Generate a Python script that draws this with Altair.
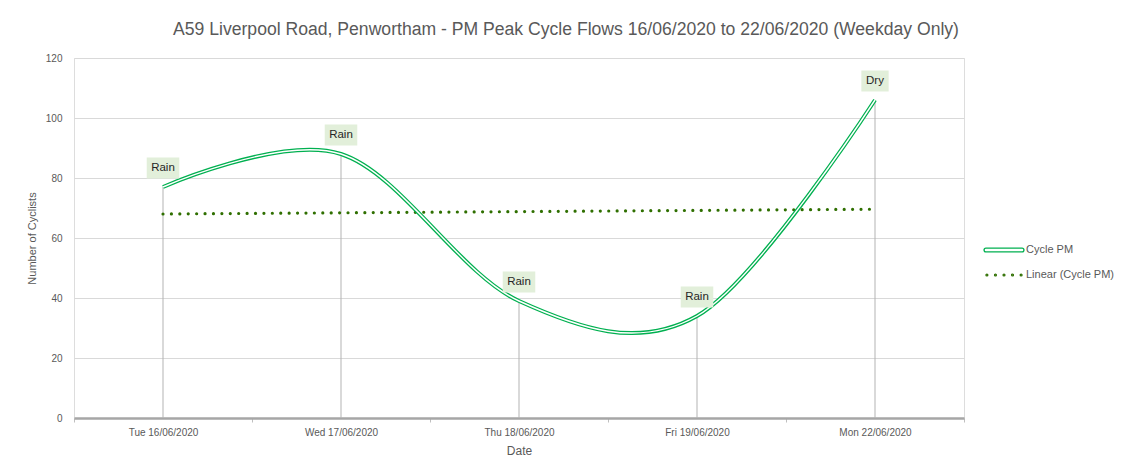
import altair as alt
import pandas as pd
import numpy as np

# ---- data ----
dates = ["Tue 16/06/2020", "Wed 17/06/2020", "Thu 18/06/2020", "Fri 19/06/2020", "Mon 22/06/2020"]
cycle_pm = [77, 88, 39, 34, 106]
weather = ["Rain", "Rain", "Rain", "Rain", "Dry"]
y_ticks = [0, 20, 40, 60, 80, 100, 120]
series = ["Cycle PM", "Linear (Cycle PM)"]

# linear trendline (like Excel's "Linear" trendline)
idx = np.arange(1, len(cycle_pm) + 1)
slope, intercept = np.polyfit(idx, cycle_pm, 1)
trend = list(intercept + slope * idx)

df = pd.DataFrame({"Date": dates, "Cyclists": cycle_pm, "Weather": weather})
tdf = pd.DataFrame({"Date": dates, "Cyclists": trend})
ldf = pd.DataFrame({"Series": series, "Date": [dates[0]] * 2, "Cyclists": [0, 0]})

FONT = "Liberation Sans"
GREEN = "#00B050"
DARK = "#2F6F00"
GREY = "#595959"

x_enc = alt.X(
    "Date:N", sort=dates, bandPosition=0.5,
    scale=alt.Scale(type="band", paddingInner=0, paddingOuter=0),
    axis=alt.Axis(title="Date", labelAngle=0, tickBand="extent", grid=False,
                  domainColor="#A6A6A6", domainWidth=2.5, tickColor="#BFBFBF",
                  tickSize=4, labelPadding=5, labelFontSize=10, labelColor=GREY,
                  titleFontSize=12, titleColor=GREY, titleFontWeight="normal",
                  titlePadding=8, labelFont=FONT, titleFont=FONT),
)
y_enc = alt.Y(
    "Cyclists:Q",
    scale=alt.Scale(domain=[0, 120], nice=False),
    axis=alt.Axis(title="Number of Cyclists", values=y_ticks, domain=False, ticks=False,
                  gridColor="#D9D9D9", labelPadding=12, labelFontSize=10, labelColor=GREY,
                  titleFontSize=11, titleColor=GREY, titleFontWeight="normal",
                  titlePadding=8, labelFont=FONT, titleFont=FONT),
)

base = alt.Chart(df)

drops = base.mark_rule(color="#B3B3B3", strokeWidth=1).encode(
    x=x_enc, y=y_enc, y2=alt.datum(0)
)

trend_line = alt.Chart(tdf).mark_line(
    color=DARK, strokeWidth=3.2, strokeDash=[0.01, 8.4], strokeCap="round"
).encode(x=x_enc, y=y_enc)

outer = base.mark_line(interpolate="cardinal", color=GREEN, strokeWidth=4).encode(x=x_enc, y=y_enc)
inner = base.mark_line(interpolate="cardinal", color="white", strokeWidth=1.4).encode(x=x_enc, y=y_enc)

box_rain = base.transform_filter(alt.datum.Weather == "Rain").mark_point(
    shape="M-1.55,-1H1.55V1H-1.55Z", filled=True, fill="#E2EFDA", strokeWidth=0,
    opacity=1, size=441, yOffset=-19
).encode(x=x_enc, y=y_enc)
box_dry = base.transform_filter(alt.datum.Weather == "Dry").mark_point(
    shape="M-1.3,-1H1.3V1H-1.3Z", filled=True, fill="#E2EFDA", strokeWidth=0,
    opacity=1, size=441, yOffset=-19
).encode(x=x_enc, y=y_enc)

labels = base.mark_text(
    yOffset=-19, fontSize=11.5, color="#262626", font=FONT, baseline="middle"
).encode(x=x_enc, y=y_enc, text="Weather:N")

capsule = ("M-0.95,-0.1H0.95A0.1,0.1 0 0 1 0.95,0.1H-0.95A0.1,0.1 0 0 1 -0.95,-0.1Z")
def dot(cx, r=0.05):
    return (f"M{cx - r},0A{r},{r} 0 1 0 {cx + r},0A{r},{r} 0 1 0 {cx - r},0Z")
dots = "".join(dot(c) for c in [-0.9, -0.45, 0.0, 0.45, 0.9])

leg = alt.Legend(orient="none", legendX=910, legendY=172, title=None, padding=0,
                 labelFontSize=11, labelColor=GREY, labelFont=FONT, symbolSize=1444,
                 symbolStrokeWidth=1.3, rowPadding=-7, labelOffset=2)

legend_layer = alt.Chart(ldf).mark_point(filled=True, opacity=0, size=1444).encode(
    x=x_enc, y=y_enc,
    shape=alt.Shape("Series:N", scale=alt.Scale(domain=series, range=[capsule, dots]), legend=leg),
    fill=alt.Fill("Series:N", scale=alt.Scale(domain=series, range=["white", DARK]), legend=leg),
    stroke=alt.Stroke("Series:N", scale=alt.Scale(domain=series, range=[GREEN, DARK]), legend=leg),
)

chart = alt.layer(
    drops, trend_line, outer, inner, box_rain, box_dry, labels, legend_layer
).properties(
    width=890, height=360,
    title=alt.TitleParams(
        text="A59 Liverpool Road, Penwortham - PM Peak Cycle Flows 16/06/2020 to 22/06/2020 (Weekday Only)",
        font=FONT, fontSize=17.6, fontWeight="normal", color=GREY, anchor="middle",
        dx=47, offset=14),
    autosize=alt.AutoSizeParams(type="none"),
    padding={"left": 66, "top": 50, "right": 154, "bottom": 46},
).configure_view(stroke="#E0E0E0", strokeWidth=1).configure(background="white")

chart.save("out.html", embed_options={"renderer": "svg", "actions": False})
